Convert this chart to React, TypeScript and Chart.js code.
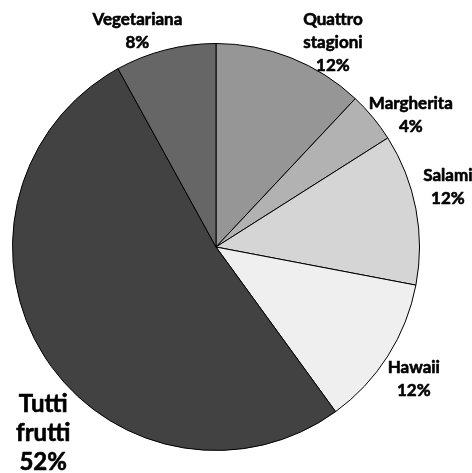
import React, { useEffect, useRef } from "react";
import { Chart, registerables } from "chart.js";

Chart.register(...registerables);

const categories = ["Quattro stagioni", "Margherita", "Salami", "Hawaii", "Tutti frutti", "Vegetariana"];
const values = [12, 4, 12, 12, 52, 8];
const labelLines = [["Quattro", "stagioni", "12%"], ["Margherita", "4%"], ["Salami", "12%"], ["Hawaii", "12%"], ["Tutti", "frutti", "52%"], ["Vegetariana", "8%"]];
const colors = ["#969696", "#b2b2b2", "#d5d5d5", "#efefef", "#424242", "#666666"];
// label offset from arc edge at mid-angle (style/layout)
const labelOffsets = [[42, -15], [38, -2], [32, -22], [26, 23], [-1, 77], [-28, -19]];
const labelSizes = [17, 17, 17, 17, 24, 17];
const lineHeights = [23, 23, 23, 23, 29, 23];

const labelPlugin = {
  id: "pieLabels",
  afterDraw(chart: any) {
    const ctx = chart.ctx;
    const meta = chart.getDatasetMeta(0);
    meta.data.forEach((arc: any, i: number) => {
      const { x, y, startAngle, endAngle, outerRadius } = arc.getProps(["x", "y", "startAngle", "endAngle", "outerRadius"], true);
      const mid = (startAngle + endAngle) / 2;
      const ex = x + Math.cos(mid) * outerRadius + labelOffsets[i][0];
      const ey = y + Math.sin(mid) * outerRadius + labelOffsets[i][1];
      const lines = labelLines[i];
      const lh = lineHeights[i];
      ctx.save();
      ctx.font = `bold ${labelSizes[i]}px Lato, "Open Sans", sans-serif`;
      ctx.fillStyle = "#000";
      ctx.strokeStyle = "#000";
      ctx.lineWidth = 0.6;
      ctx.lineJoin = "round";
      ctx.textAlign = "center";
      ctx.textBaseline = "middle";
      const top = ey - ((lines.length - 1) * lh) / 2;
      lines.forEach((t, k) => {
        ctx.fillText(t, ex, top + k * lh);
        ctx.strokeText(t, ex, top + k * lh);
      });
      ctx.restore();
    });
  },
};

export default function App() {
  const ref = useRef<HTMLCanvasElement>(null);
  useEffect(() => {
    document.body.style.margin = "0";
    const chart = new Chart(ref.current!, {
      type: "pie",
      data: {
        labels: categories,
        datasets: [{ data: values, backgroundColor: colors, borderColor: "#000", borderWidth: 1 }],
      },
      options: {
        animation: false,
        responsive: false,
        layout: { padding: { left: 12, right: 52, top: 43, bottom: 22 } },
        plugins: { legend: { display: false }, tooltip: { enabled: false } },
      },
      plugins: [labelPlugin],
    });
    return () => chart.destroy();
  }, []);
  return (
    <div style={{ width: 472, height: 473, background: "#fff" }}>
      <canvas ref={ref} width={472} height={473} />
    </div>
  );
}
